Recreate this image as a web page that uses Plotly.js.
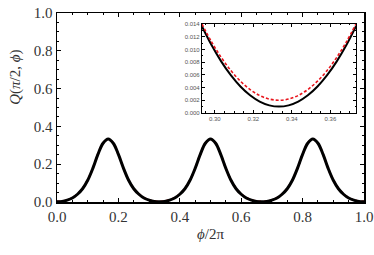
<!DOCTYPE html>
<html>
<head>
<meta charset="utf-8">
<script src="https://cdn.plot.ly/plotly-3.0.1.min.js"></script>
<style>html,body{margin:0;padding:0;background:#fff;}#chart{width:374px;height:255px;}</style>
</head>
<body>
<div id="chart"></div>
<script>
// Main curve: phi/2pi and Q values
const mainX = [0.0000,0.0167,0.0333,0.0500,0.0667,0.0833,0.1000,0.1167,0.1333,0.1500,0.1667,0.1833,0.2000,0.2167,0.2333,0.2500,0.2667,0.2833,0.3000,0.3167,0.3333,
0.3500,0.3667,0.3833,0.4000,0.4167,0.4333,0.4500,0.4667,0.4833,0.5000,0.5167,0.5333,0.5500,0.5667,0.5833,0.6000,0.6167,0.6333,0.6500,0.6667,
0.6833,0.7000,0.7167,0.7333,0.7500,0.7667,0.7833,0.8000,0.8167,0.8333,0.8500,0.8667,0.8833,0.9000,0.9167,0.9333,0.9500,0.9667,0.9833,1.0000];
const mainBlack = [0.001,0.003,0.010,0.021,0.041,0.070,0.115,0.178,0.252,0.311,0.333,0.311,0.252,0.178,0.115,0.070,0.041,0.021,0.010,0.003,0.001,
0.003,0.010,0.021,0.041,0.070,0.115,0.178,0.252,0.311,0.333,0.311,0.252,0.178,0.115,0.070,0.041,0.021,0.010,0.003,0.001,
0.003,0.010,0.021,0.041,0.070,0.115,0.178,0.252,0.311,0.333,0.311,0.252,0.178,0.115,0.070,0.041,0.021,0.010,0.003,0.001];
const mainRed = [0.002,0.004,0.011,0.022,0.042,0.071,0.116,0.178,0.252,0.311,0.333,0.311,0.252,0.178,0.116,0.071,0.042,0.022,0.011,0.004,0.002,
0.004,0.011,0.022,0.042,0.071,0.116,0.178,0.252,0.311,0.333,0.311,0.252,0.178,0.116,0.071,0.042,0.022,0.011,0.004,0.002,
0.004,0.011,0.022,0.042,0.071,0.116,0.178,0.252,0.311,0.333,0.311,0.252,0.178,0.116,0.071,0.042,0.022,0.011,0.004,0.002];

// Inset (zoom around phi/2pi = 1/3)
const insetX = [0.2933,0.2983,0.3033,0.3083,0.3133,0.3183,0.3233,0.3283,0.3333,0.3383,0.3433,0.3483,0.3533,0.3583,0.3633,0.3683,0.3733];
const insetBlack = [0.01364,0.01068,0.00811,0.00594,0.00416,0.00278,0.00179,0.00120,0.00100,0.00120,0.00179,0.00278,0.00416,0.00594,0.00811,0.01068,0.01364];
const insetRed = [0.01400,0.01119,0.00875,0.00669,0.00500,0.00369,0.00275,0.00219,0.00200,0.00219,0.00275,0.00369,0.00500,0.00669,0.00875,0.01119,0.01400];

const mainXTicks = [0,0.2,0.4,0.6,0.8,1.0];
const mainXLabels = ['0.0','0.2','0.4','0.6','0.8','1.0'];
const mainYTicks = [0,0.2,0.4,0.6,0.8,1.0];
const mainYLabels = ['0.0','0.2','0.4','0.6','0.8','1.0'];
const insetXTicks = [0.30,0.32,0.34,0.36];
const insetXLabels = ['0.30','0.32','0.34','0.36'];
const insetYTicks = [0,0.002,0.004,0.006,0.008,0.010,0.012,0.014];
const insetYLabels = ['0.000','0.002','0.004','0.006','0.008','0.010','0.012','0.014'];

const serif = "'Liberation Serif', 'DejaVu Serif', serif";
const sans = "'Liberation Sans', 'DejaVu Sans', sans-serif";

const traces = [
  {x: mainX, y: mainRed, type:'scatter', mode:'lines', line:{color:'#e8141c', width:2, dash:'dot', shape:'spline'}, xaxis:'x', yaxis:'y', hoverinfo:'skip'},
  {x: mainX, y: mainBlack, type:'scatter', mode:'lines', line:{color:'#000', width:3, shape:'spline'}, xaxis:'x', yaxis:'y', hoverinfo:'skip'},
  {x: insetX, y: insetBlack, type:'scatter', mode:'lines', line:{color:'#000', width:2, shape:'spline'}, xaxis:'x2', yaxis:'y2', hoverinfo:'skip'},
  {x: insetX, y: insetRed, type:'scatter', mode:'lines', line:{color:'#e8141c', width:1.6, dash:'3px,2px', shape:'spline'}, xaxis:'x2', yaxis:'y2', hoverinfo:'skip'}
];

const layout = {
  width:374, height:255,
  margin:{l:57, r:10, t:13, b:53},
  paper_bgcolor:'#fff', plot_bgcolor:'#fff',
  showlegend:false,
  font:{family:serif, color:'#000'},
  xaxis:{
    domain:[0,1], range:[0,1], tickvals:mainXTicks, ticktext:mainXLabels,
    ticks:'inside', ticklen:4, tickwidth:1, tickcolor:'#000',
    minor:{dtick:0.05, ticks:'inside', ticklen:2, tickcolor:'#000'},
    showline:true, linecolor:'#000', linewidth:1.5, mirror:'allticks',
    showgrid:false, zeroline:false,
    tickfont:{family:serif, size:15, color:'#333'},
    title:{text:'<i>ϕ</i>/2π', font:{family:serif, size:15, color:'#333'}, standoff:5}
  },
  yaxis:{
    domain:[0,1], range:[0,1], tickvals:mainYTicks, ticktext:mainYLabels,
    ticks:'inside', ticklen:4, tickwidth:1, tickcolor:'#000',
    minor:{dtick:0.05, ticks:'inside', ticklen:2, tickcolor:'#000'},
    showline:true, linecolor:'#000', linewidth:1.5, mirror:'allticks',
    showgrid:false, zeroline:false,
    tickfont:{family:serif, size:15, color:'#333'}
  },
  xaxis2:{
    anchor:'y2', domain:[0.472,0.974], range:[0.2933,0.3733],
    tickvals:insetXTicks, ticktext:insetXLabels,
    ticks:'inside', ticklen:3, tickwidth:1, tickcolor:'#000',
    minor:{dtick:0.005, ticks:'inside', ticklen:1.5, tickcolor:'#000'},
    showline:true, linecolor:'#000', linewidth:1, mirror:'allticks',
    showgrid:false, zeroline:false,
    tickfont:{family:sans, size:6, color:'#555'}
  },
  yaxis2:{
    anchor:'x2', domain:[0.471,0.942], range:[0,0.014],
    tickvals:insetYTicks, ticktext:insetYLabels,
    ticks:'inside', ticklen:3, tickwidth:1, tickcolor:'#000',
    minor:{dtick:0.001, ticks:'inside', ticklen:1.5, tickcolor:'#000'},
    showline:true, linecolor:'#000', linewidth:1, mirror:'allticks',
    showgrid:false, zeroline:false,
    tickfont:{family:sans, size:6, color:'#555'}
  },
  annotations:[
    {xref:'paper', yref:'paper', x:-0.135, y:0.66, xanchor:'center', yanchor:'middle', textangle:-90, showarrow:false,
     text:'<i>Q</i>(<i>π</i>/2, <i>ϕ</i>)', font:{family:serif, size:15, color:'#333'}}
  ],
  shapes:[
    {type:'rect', xref:'paper', yref:'paper', x0:0.472, x1:0.974, y0:0.471, y1:0.942, fillcolor:'#fff', line:{width:0}, layer:'below'}
  ]
};

Plotly.newPlot('chart', traces, layout, {staticPlot:true, displayModeBar:false});
</script>
</body>
</html>
